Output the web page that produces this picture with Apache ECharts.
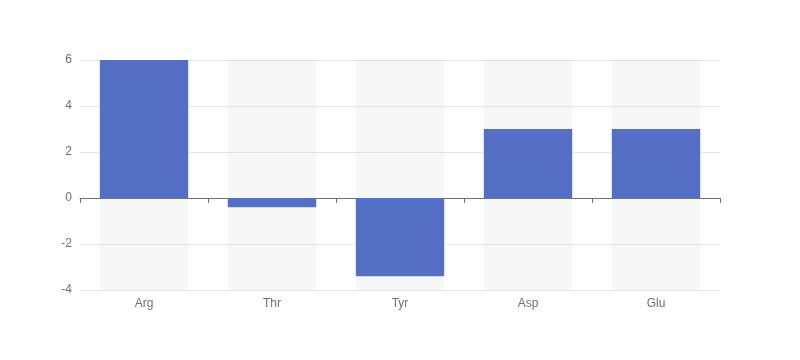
<!DOCTYPE html>
<html>
<head>
<meta charset="utf-8">
<script src="https://cdn.jsdelivr.net/npm/echarts@6/dist/echarts.min.js"></script>
<style>html,body{margin:0;padding:0;background:#fff}#c{width:800px;height:360px}</style>
</head>
<body>
<div id="c"></div>
<script>
const categories = ['Arg', 'Thr', 'Tyr', 'Asp', 'Glu'];
const values = [6, -0.4, -3.4, 3, 3];

const chart = echarts.init(document.getElementById('c'), null, {renderer: 'canvas'});
chart.setOption({
  animation: false,
  grid: {left: 80, right: 80, top: 60, bottom: 70},
  xAxis: {
    type: 'category',
    data: categories,
    axisLine: {lineStyle: {color: '#6e7079'}},
    axisTick: {show: true, lineStyle: {color: '#6e7079'}},
    axisLabel: {color: '#6e7079', fontSize: 12}
  },
  yAxis: {
    type: 'value',
    min: -4,
    max: 6,
    interval: 2,
    splitLine: {lineStyle: {color: '#e0e6f1'}},
    axisLabel: {color: '#6e7079', fontSize: 12}
  },
  series: [{
    type: 'bar',
    data: values,
    barWidth: '69%',
    itemStyle: {color: '#5470c6'},
    showBackground: true,
    backgroundStyle: {color: 'rgba(180,180,180,0.1)'}
  }]
});
</script>
</body>
</html>
